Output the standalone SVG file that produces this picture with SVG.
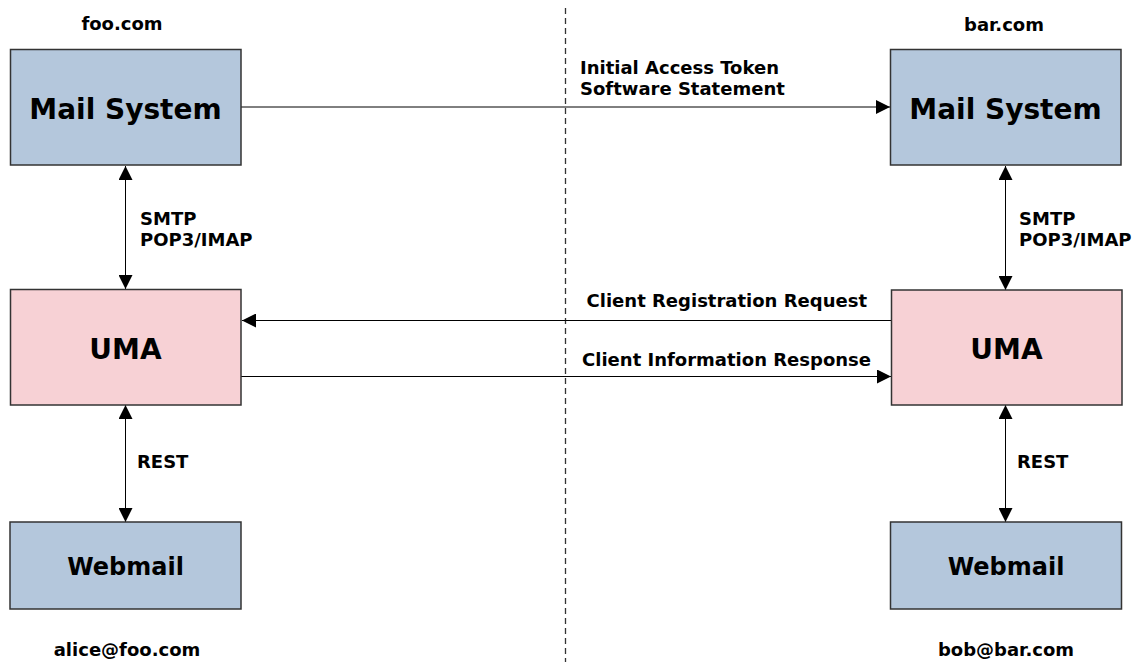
<svg xmlns="http://www.w3.org/2000/svg" width="1134" height="662" viewBox="0 0 1134 662">
<defs>
<style>
.t{font-family:"DejaVu Sans","Liberation Sans",sans-serif;font-weight:bold;fill:#000}
.s{font-size:18px}
.blue{fill:#b4c7dc;stroke:#333;stroke-width:1.5}
.pink{fill:#f7d1d5;stroke:#333;stroke-width:1.5}
.c{stroke:#000;stroke-width:1;fill:none}
</style>
<marker id="ah" viewBox="0 0 10 10" refX="10" refY="5" markerWidth="14" markerHeight="14" markerUnits="userSpaceOnUse" orient="auto-start-reverse"><path d="M0,0 L10,5 L0,10 z" fill="#000"/></marker>
</defs>
<rect width="1134" height="662" fill="#fff"/>
<g id="divider"><line x1="565.5" y1="8" x2="565.5" y2="662" stroke="#333" stroke-width="1.3" stroke-dasharray="6,4"/></g>
<g id="connectors">
<line class="c" x1="241" y1="107" x2="890" y2="107" marker-end="url(#ah)"/>
<line class="c" x1="125.5" y1="166" x2="125.5" y2="289" marker-start="url(#ah)" marker-end="url(#ah)"/>
<line class="c" x1="1005.5" y1="166" x2="1005.5" y2="290" marker-start="url(#ah)" marker-end="url(#ah)"/>
<line class="c" x1="891" y1="320.5" x2="242" y2="320.5" marker-end="url(#ah)"/>
<line class="c" x1="241" y1="376.5" x2="891" y2="376.5" marker-end="url(#ah)"/>
<line class="c" x1="125.5" y1="405" x2="125.5" y2="522" marker-start="url(#ah)" marker-end="url(#ah)"/>
<line class="c" x1="1005.5" y1="405" x2="1005.5" y2="522" marker-start="url(#ah)" marker-end="url(#ah)"/>
<text class="t s" x="580" y="74">Initial Access Token</text>
<text class="t s" x="580" y="95">Software Statement</text>
<text class="t s" x="140" y="225">SMTP</text>
<text class="t s" x="140" y="246">POP3/IMAP</text>
<text class="t s" x="1019" y="225">SMTP</text>
<text class="t s" x="1019" y="246">POP3/IMAP</text>
<text class="t s" x="867" y="307" text-anchor="end">Client Registration Request</text>
<text class="t s" x="871" y="366" text-anchor="end">Client Information Response</text>
<text class="t s" x="137" y="468">REST</text>
<text class="t s" x="1017" y="468">REST</text>
</g>
<g id="foo-label"><text class="t s" x="122" y="30" text-anchor="middle">foo.com</text></g>
<g id="bar-label"><text class="t s" x="1004" y="31" text-anchor="middle">bar.com</text></g>
<g id="mail-foo"><rect class="blue" x="10.5" y="49.5" width="230.5" height="115.5"/><text class="t" x="125.5" y="119" font-size="28" text-anchor="middle">Mail System</text></g>
<g id="mail-bar"><rect class="blue" x="890.5" y="49.5" width="230.5" height="115.5"/><text class="t" x="1005.5" y="119" font-size="28" text-anchor="middle">Mail System</text></g>
<g id="uma-foo"><rect class="pink" x="10.5" y="289.5" width="230.5" height="115.5"/><text class="t" x="125.5" y="359" font-size="28" text-anchor="middle">UMA</text></g>
<g id="uma-bar"><rect class="pink" x="891.5" y="290" width="230.5" height="115"/><text class="t" x="1006.5" y="359" font-size="28" text-anchor="middle">UMA</text></g>
<g id="webmail-foo"><rect class="blue" x="10" y="522" width="231" height="87"/><text class="t" x="125.5" y="575" font-size="24" text-anchor="middle">Webmail</text></g>
<g id="webmail-bar"><rect class="blue" x="890.5" y="522" width="231" height="87"/><text class="t" x="1006" y="575" font-size="24" text-anchor="middle">Webmail</text></g>
<g id="alice"><text class="t s" x="127" y="656" text-anchor="middle">alice@foo.com</text></g>
<g id="bob"><text class="t s" x="1006" y="656" text-anchor="middle">bob@bar.com</text></g>
</svg>
